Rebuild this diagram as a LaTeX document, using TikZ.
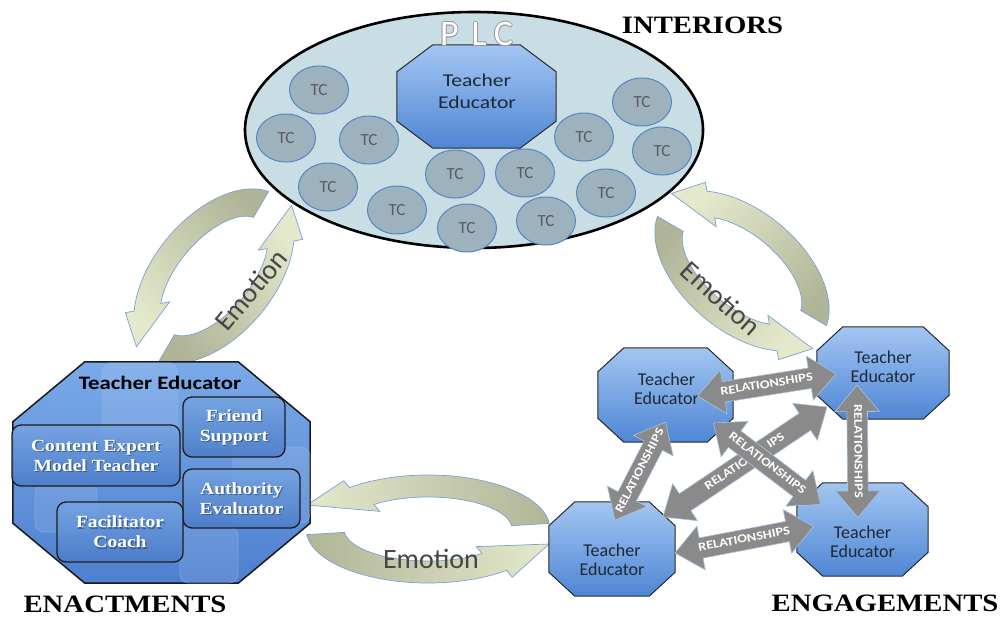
\documentclass[tikz,border=0pt]{standalone}
\usepackage{fontspec}
\setmainfont{Liberation Serif}
\newfontfamily\carl{Carlito}
\newfontfamily\carlw[FakeStretch=1.2]{Carlito}
\newfontfamily\tnrw[FakeStretch=1.15]{Liberation Serif}
\usetikzlibrary{shapes.geometric,shapes.arrows,calc}

\definecolor{plcfill}{RGB}{201,222,228}
\definecolor{tcfill}{RGB}{158,178,190}
\definecolor{tcline}{RGB}{84,134,196}
\definecolor{tctext}{RGB}{88,92,96}
\definecolor{octtop}{RGB}{163,198,242}
\definecolor{octbot}{RGB}{78,134,212}
\definecolor{octline}{RGB}{40,40,40}
\definecolor{tetext}{RGB}{30,40,55}
\definecolor{entop}{RGB}{122,170,232}
\definecolor{enbot}{RGB}{78,128,208}
\definecolor{roletop}{RGB}{118,164,226}
\definecolor{rolebot}{RGB}{76,124,200}
\definecolor{roleline}{RGB}{28,28,28}
\definecolor{roleshadow}{RGB}{40,60,100}
\definecolor{ghostline}{RGB}{140,180,232}
\definecolor{emopale}{RGB}{228,233,203}
\definecolor{emoolive}{RGB}{176,181,152}
\definecolor{emoline}{RGB}{122,162,212}
\definecolor{emotext}{RGB}{70,70,70}
\definecolor{relgrey}{RGB}{138,138,138}
\definecolor{relline}{RGB}{170,195,225}
\definecolor{plcshade}{RGB}{150,150,150}

% one curved band of an emotion loop, in a local frame
% #1 start angle, #2 end angle, #3 tip point, #4 extra options
\newcommand{\emoarc}[4]{%
  \pgfmathsetmacro{\Aw}{\Ao+\Hd}\pgfmathsetmacro{\Bw}{\Bo+\Hd}%
  \pgfmathsetmacro{\Av}{\Ai-\Hd}\pgfmathsetmacro{\Bv}{\Bi-\Hd}%
  \path[emoband,#4] (#1:{\Ao} and {\Bo})
    arc[start angle=#1,end angle=#2,x radius=\Ao,y radius=\Bo]
    -- (#2:{\Aw} and {\Bw}) -- #3 -- (#2:{\Av} and {\Bv}) -- (#2:{\Ai} and {\Bi})
    arc[start angle=#2,end angle=#1,x radius=\Ai,y radius=\Bi] -- cycle;}

% named box with an octagon outline cut at its corners
% #1 name, #2 centre, #3 width, #4 height, #5 corner cut x, #6 corner cut y, #7 style
\newcommand{\octnode}[7]{%
  \node[inner sep=0pt, minimum width=#3, minimum height=#4] (#1) at #2 {};
  \path[#7] ($(#1.north west)+(#5,0)$) -- ($(#1.north east)+(-#5,0)$)
    -- ($(#1.north east)+(0,#6)$) -- ($(#1.south east)+(0,-#6)$)
    -- ($(#1.south east)+(-#5,0)$) -- ($(#1.south west)+(#5,0)$)
    -- ($(#1.south west)+(0,-#6)$) -- ($(#1.north west)+(0,#6)$) -- cycle;}

% two-headed relationship arrow between two named points
\newcommand{\relarrow}[3][RELATIONSHIPS]{%
  \path let \p1=($(#3)-(#2)$), \n1={veclen(\x1,\y1)} in
    (#2) -- (#3) node[rel, sloped, midway, minimum height=\n1] {\makebox[0pt]{#1}};}

\begin{document}
\begin{tikzpicture}[x=1pt,y=-1pt,
  tc/.style={ellipse, minimum width=59pt, minimum height=48pt, inner sep=0pt,
    fill=tcfill, draw=tcline, line width=1pt, text=tctext,
    font=\carl\fontsize{17}{17}\selectfont},
  octa/.style={draw=octline, line width=1pt, top color=octtop, bottom color=octbot},
  enocta/.style={draw=black!90, line width=1.5pt, top color=entop, bottom color=enbot},
  tetext/.style={align=center, text=tetext, inner sep=0pt},
  caption/.style={font=\tnrw\bfseries\fontsize{25}{25}\selectfont, inner sep=0pt,
    anchor=base, text=black},
  rolebox/.style={rectangle, rounded corners=9pt, draw=roleline, line width=1.3pt,
    top color=roletop, bottom color=rolebot, fill opacity=0.85, text opacity=1,
    align=center, text=white, inner sep=0pt,
    font=\tnrw\bfseries\fontsize{17}{20}\selectfont},
  roleshade/.style={align=center, text=roleshadow, text opacity=0.6, inner sep=0pt,
    font=\tnrw\bfseries\fontsize{17}{20}\selectfont},
  ghost/.style={rectangle, rounded corners=9pt, draw=ghostline, line width=0.8pt,
    fill=white, fill opacity=0.10, draw opacity=0.6},
  emoband/.style={draw=emoline, line width=0.7pt, top color=emopale, bottom color=emoolive},
  emotxt/.style={text=emotext, font=\carl\fontsize{28}{28}\selectfont, inner sep=0pt},
  plcletters/.style={font=\carl\fontsize{36}{36}\selectfont, inner sep=0pt},
  rel/.style={double arrow, double arrow head extend=12pt, double arrow tip angle=80,
    fill=relgrey, draw=relline, line width=0.6pt, text=white,
    font=\carlw\bfseries\fontsize{12}{12}\selectfont,
    inner xsep=0pt, inner ysep=5pt, text height=8pt, text depth=2pt}]

\useasboundingbox (0,0) rectangle (1003,616);
\fill[white] (0,0) rectangle (1003,616);

% ---- emotion loops ----
\def\Hd{9}
\def\Ao{102}\def\Bo{60}\def\Ai{72}\def\Bi{36}
\begin{scope}[shift={(214,276)},rotate=50,yscale=-1]
  \emoarc{12}{140}{(-104,14)}{shading angle=135}
  \emoarc{192}{320}{(104,-14)}{shading angle=-45}
\end{scope}
\begin{scope}[shift={(742,271)},rotate=-40,yscale=-1]
  \emoarc{12}{140}{(-104,14)}{shading angle=45}
  \emoarc{192}{320}{(104,-14)}{shading angle=-135}
\end{scope}
\def\Ao{122}\def\Bo{54}\def\Ai{84}\def\Bi{32}
\begin{scope}[shift={(428,529)},yscale=-1]
  \emoarc{6}{130}{(-121,24)}{shading angle=90}
  \emoarc{186}{310}{(121,-15)}{shading angle=-90}
\end{scope}
\node[emotxt, rotate=50] (emoL) at (251,290) {Emotion};
\node[emotxt, rotate=-42] (emoR) at (721,298) {Emotion};
\node[emotxt] (emoB) at (431,559) {Emotion};

% ---- interiors: the PLC ----
\node[ellipse, draw=black, line width=2.6pt, fill=plcfill, minimum width=458pt,
  minimum height=236pt, inner sep=0pt] (plc) at (474,130) {};
\node[tc] (tc1) at (319,90) {TC};
\node[tc] (tc2) at (286,138) {TC};
\node[tc] (tc3) at (369,140) {TC};
\node[tc] (tc4) at (328,187) {TC};
\node[tc] (tc5) at (397,210) {TC};
\node[tc] (tc6) at (467,228) {TC};
\node[tc] (tc7) at (455,174) {TC};
\node[tc] (tc8) at (525,173) {TC};
\node[tc] (tc9) at (546,221) {TC};
\node[tc] (tc10) at (584,137) {TC};
\node[tc] (tc11) at (606,193) {TC};
\node[tc] (tc12) at (642,102) {TC};
\node[tc] (tc13) at (662,151) {TC};
\octnode{te0}{(476.5,96.5)}{159pt}{103pt}{36}{27}{octa}
\node[tetext, font=\carlw\fontsize{18}{22}\selectfont] (te0t) at (477,91) {Teacher\\Educator};
\foreach \dx/\dy [count=\k] in {-0.9/0,0.9/0,0/-0.9,0/0.9,0.7/0.7}
  \node[plcletters, text=plcshade] (plco\k) at (476.5+\dx,34+\dy) {P\hspace{13pt}L\hspace{7pt}C};
\node[plcletters, text=white] (plct) at (476.5,34) {P\hspace{13pt}L\hspace{7pt}C};

% ---- captions ----
\node[caption] (interiors) at (702.5,33) {INTERIORS};
\node[caption] (enactments) at (125,612) {ENACTMENTS};
\node[caption] (engagements) at (885,611) {ENGAGEMENTS};

% ---- enactments ----
\octnode{en}{(161.5,472.5)}{297pt}{221pt}{72}{60}{enocta}
\node[ghost, minimum width=76pt, minimum height=75pt] (g1) at (140,400.5) {};
\node[ghost, minimum width=62pt, minimum height=49pt] (g2) at (66,507.5) {};
\node[ghost, minimum width=77pt, minimum height=76pt] (g3) at (271.5,485) {};
\node[ghost, minimum width=58pt, minimum height=56pt] (g4) at (209,555) {};
\node[font=\carlw\bfseries\fontsize{19}{19}\selectfont, inner sep=0pt] (ente) at (160,383)
  {Teacher Educator};
\node[rolebox, minimum width=102pt, minimum height=60pt] (fs) at (234,427) {};
\node[rolebox, minimum width=168pt, minimum height=61pt] (ce) at (96,455.5) {};
\node[rolebox, minimum width=117pt, minimum height=59pt] (ae) at (241.5,498.5) {};
\node[rolebox, minimum width=126pt, minimum height=60pt] (fc) at (120,532) {};
\foreach \b/\t in {fs/{Friend\\Support}, ce/{Content Expert\\Model Teacher},
                   ae/{Authority\\Evaluator}, fc/{Facilitator\\Coach}} {
  \node[roleshade] (\b s) at ($(\b)+(1.2,1.2)$) {\t};
  \node[roleshade, text=white, text opacity=1] (\b t) at (\b) {\t};
}

% ---- engagements ----
\octnode{tl}{(665.5,395)}{135pt}{94pt}{26}{24}{octa}
\octnode{tr}{(883,373)}{132pt}{92pt}{26}{24}{octa}
\octnode{bl}{(612,549)}{126pt}{94pt}{26}{24}{octa}
\octnode{br}{(862.5,529.5)}{131pt}{93pt}{26}{24}{octa}
\node[tetext, font=\carl\fontsize{18}{19}\selectfont] (tlt) at ($(tl)+(1,-6)$) {Teacher\\Educator};
\node[tetext, font=\carl\fontsize{18}{19}\selectfont] (trt) at ($(tr)+(0,-6)$) {Teacher\\Educator};
\node[tetext, font=\carl\fontsize{18}{19}\selectfont] (blt) at ($(bl)+(0,11)$) {Teacher\\Educator};
\node[tetext, font=\carl\fontsize{18}{19}\selectfont] (brt) at ($(br)+(0,12)$) {Teacher\\Educator};

\coordinate (r1a) at ($(tl)+(32,1)$);   \coordinate (r1b) at ($(tr)+(-47,1)$);
\coordinate (r2a) at ($(tr)+(-26,12)$); \coordinate (r2b) at ($(br)+(-4.5,-12)$);
\coordinate (r3a) at ($(tl)+(0,27)$);   \coordinate (r3b) at ($(bl)+(3,-29)$);
\coordinate (r4a) at ($(tl)+(48,28)$);  \coordinate (r4b) at ($(br)+(-42,-25)$);
\coordinate (r5a) at ($(bl)+(51,-32)$); \coordinate (r5b) at ($(tr)+(-56,34)$);
\coordinate (r6a) at ($(bl)+(63,4)$);   \coordinate (r6b) at ($(br)+(-49,-3)$);
\relarrow{r3a}{r3b}
\relarrow{r1a}{r1b}
\relarrow{r2a}{r2b}
\relarrow{r6a}{r6b}
\relarrow[RELATIO\phantom{NSH}IPS]{r5a}{r5b}
\relarrow{r4a}{r4b}

\end{tikzpicture}
\end{document}
